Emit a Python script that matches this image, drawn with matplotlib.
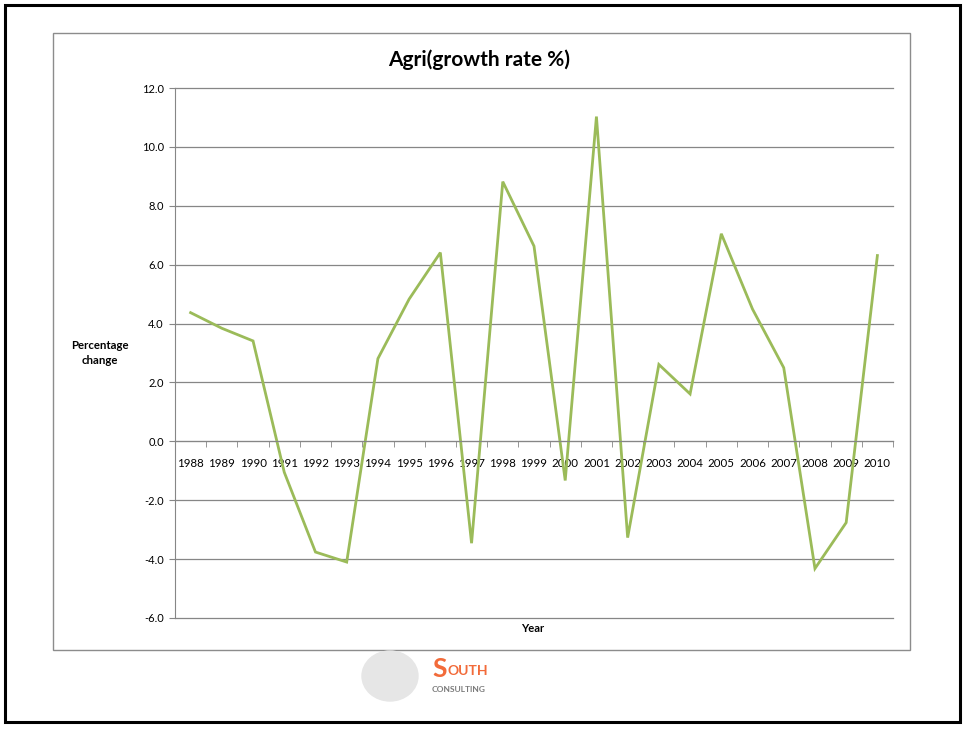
#!/usr/bin/env python3
"""Agri growth rate line chart (Excel style)."""

import matplotlib
matplotlib.use("Agg")
import matplotlib.pyplot as plt
from matplotlib.patches import Rectangle, Ellipse
import numpy as np

years = [str(y) for y in range(1988, 2011)]
growth = [4.37, 3.84, 3.41, -1.05, -3.76, -4.10, 2.81, 4.83, 6.41, -3.46,
          8.82, 6.63, -1.33, 11.03, -3.27, 2.61, 1.61, 7.05, 4.49, 2.50,
          -4.32, -2.76, 6.31]
y_ticks = [-6.0, -4.0, -2.0, 0.0, 2.0, 4.0, 6.0, 8.0, 10.0, 12.0]

plt.rcParams["font.family"] = ["Lato", "DejaVu Sans"]

W, H = 965, 729
fig = plt.figure(figsize=(W / 100, H / 100), dpi=100)


def fx(px):
    return px / W


def fy(py):
    return 1 - py / H


# outer black frame and chart-area border
fig.add_artist(Rectangle((fx(5), fy(722)), fx(955), 717 / H, fill=False,
                         edgecolor="black", linewidth=2.2,
                         transform=fig.transFigure))
fig.add_artist(Rectangle((fx(53), fy(650)), fx(857), 617 / H, fill=False,
                         edgecolor="#8c8c8c", linewidth=1.0,
                         transform=fig.transFigure))

ax = fig.add_axes([fx(175), fy(618), fx(893 - 175), (618 - 88) / H])

x = np.arange(len(years))
ax.plot(x, growth, color="#9BBB59", linewidth=2.0, solid_joinstyle="miter")

ax.set_xlim(-0.5, len(years) - 0.5)
ax.set_ylim(-6, 12)
ax.set_yticks(y_ticks)
ax.set_yticklabels([f"{v:.1f}" for v in y_ticks], fontsize=8)
ax.grid(axis="y", color="#868686", linewidth=0.9)
ax.set_axisbelow(True)
for gl in ax.get_ygridlines():
    gl.set_clip_on(False)

# x axis crosses at zero, ticks between categories
ax.spines["bottom"].set_position(("data", 0))
ax.spines["bottom"].set_color("#868686")
ax.spines["left"].set_color("#868686")
ax.spines["top"].set_visible(False)
ax.spines["right"].set_visible(False)
ax.set_xticks(x)
ax.set_xticklabels(years, fontsize=8.3)
ax.set_xticks(np.arange(len(years) + 1) - 0.5, minor=True)
ax.tick_params(axis="x", which="major", length=0, pad=12)
ax.tick_params(axis="x", which="minor", length=4, color="#868686")
ax.tick_params(axis="y", length=4, color="#868686", pad=4)

fig.text(fx(479), fy(60), "Agri(growth rate %)", fontsize=15,
         fontweight="bold", ha="center", va="center")
fig.text(fx(100), fy(353), "Percentage\nchange", fontsize=8.2,
         fontweight="bold", ha="center", va="center", linespacing=1.5)
fig.text(fx(533), fy(628), "Year", fontsize=8, fontweight="bold",
         ha="center", va="center")

# logo under the chart
fig.add_artist(Ellipse((fx(390), fy(676)), fx(56), 50 / H,
                       color="#e6e6e6", transform=fig.transFigure))
fig.text(fx(432), fy(669), "S", fontsize=19, color="#f26b3a",
         fontweight="bold", ha="left", va="center")
fig.text(fx(447), fy(671), "OUTH", fontsize=10, color="#f26b3a",
         fontweight="bold", ha="left", va="center")
fig.text(fx(432), fy(689), "CONSULTING", fontsize=6, color="#7a7a7a",
         fontweight="bold", ha="left", va="center")

fig.savefig("out.png", dpi=100)
